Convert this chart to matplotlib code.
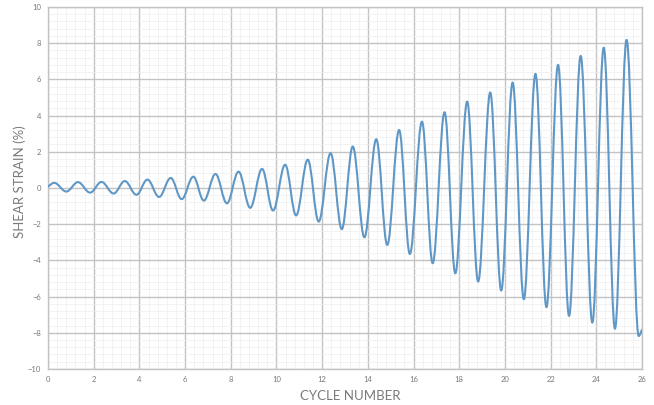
import numpy as np
import matplotlib.pyplot as plt
from matplotlib.path import Path
from matplotlib.patches import PathPatch
from matplotlib.ticker import MultipleLocator

# --- data (peaks / troughs of each cycle) ---
start_point = (0.0, 0.08)
end_point = (26.0, -7.85)

peak_x = [0.27, 1.31, 2.34, 3.36, 4.35, 5.37, 6.36, 7.33, 8.34, 9.37, 10.38, 11.37, 12.37,
          13.34, 14.37, 15.37, 16.37, 17.36, 18.35, 19.36, 20.34, 21.34, 22.33, 23.32, 24.33, 25.33]
peak_y = [0.28, 0.32, 0.33, 0.38, 0.46, 0.55, 0.62, 0.77, 0.90, 1.05, 1.28, 1.56, 1.92,
          2.29, 2.69, 3.20, 3.66, 4.18, 4.77, 5.27, 5.82, 6.30, 6.80, 7.29, 7.75, 8.18]

trough_x = [0.80, 1.84, 2.87, 3.87, 4.86, 5.85, 6.82, 7.83, 8.85, 9.85, 10.86, 11.85, 12.86,
            13.85, 14.85, 15.84, 16.84, 17.83, 18.83, 19.84, 20.83, 21.82, 22.81, 23.83, 24.82, 25.86]
trough_y = [-0.20, -0.26, -0.31, -0.38, -0.50, -0.62, -0.70, -0.85, -1.10, -1.25, -1.52, -1.86, -2.28,
            -2.73, -3.15, -3.65, -4.16, -4.72, -5.17, -5.67, -6.15, -6.59, -7.07, -7.44, -7.78, -8.18]

x_ticks = list(range(0, 27, 2))
y_ticks = list(range(-10, 11, 2))

line_color = '#5f97c6'
major_grid = '#c3c3c3'
minor_grid = '#eeeeee'
text_color = '#7a7a7a'

plt.rcParams['font.family'] = ['Lato', 'DejaVu Sans']

# ordered list of extrema: start, peak, trough, peak, trough, ..., end
pts = [start_point]
for px, py, tx, ty in zip(peak_x, peak_y, trough_x, trough_y):
    pts.append((px, py))
    pts.append((tx, ty))
pts.append(end_point)

# smooth curve through the extrema with cubic Bezier segments (flat tangents at extrema)
k = 0.37
verts = [pts[0]]
codes = [Path.MOVETO]
for i in range(len(pts) - 1):
    x0, y0 = pts[i]
    x1, y1 = pts[i + 1]
    dx = x1 - x0
    dy = y1 - y0
    if i == 0:
        c1 = (x0 + k * dx, y0 + k * dy)
    else:
        c1 = (x0 + k * dx, y0)
    if i == len(pts) - 2:
        c2 = (x1 - k * dx, y1 - k * dy)
    else:
        c2 = (x1 - k * dx, y1)
    verts += [c1, c2, (x1, y1)]
    codes += [Path.CURVE4] * 3

fig = plt.figure(figsize=(6.54, 4.05), dpi=100)
ax = fig.add_axes([0.0735, 0.089, 0.908, 0.894])

ax.add_patch(PathPatch(Path(verts, codes), fill=False, edgecolor=line_color, lw=1.5,
                       capstyle='round', joinstyle='round', zorder=3))

ax.set_xlim(0, 26)
ax.set_ylim(-10, 10)
ax.set_xticks(x_ticks)
ax.set_yticks(y_ticks)
ax.xaxis.set_minor_locator(MultipleLocator(0.4))
ax.yaxis.set_minor_locator(MultipleLocator(0.4))
ax.grid(True, which='major', color=major_grid, lw=1.0, zorder=1)
ax.grid(True, which='minor', color=minor_grid, lw=0.5, zorder=0)
ax.set_axisbelow(True)
ax.tick_params(which='both', length=0)
ax.tick_params(axis='both', labelsize=5.5, labelcolor=text_color)
ax.tick_params(axis='x', pad=5)
ax.tick_params(axis='y', pad=5)

for s in ax.spines.values():
    s.set_color(major_grid)
    s.set_linewidth(1.0)

# axis titles placed where they sit in the reference
fig.text(350 / 654, 1 - 396.5 / 405, 'CYCLE NUMBER', fontsize=9.5, color=text_color,
         ha='center', va='center')
fig.text(20 / 654, 1 - 182 / 405, 'SHEAR STRAIN (%)', fontsize=9.5, color=text_color,
         ha='center', va='center', rotation=90)

fig.savefig('out.png', dpi=100, facecolor='white')
